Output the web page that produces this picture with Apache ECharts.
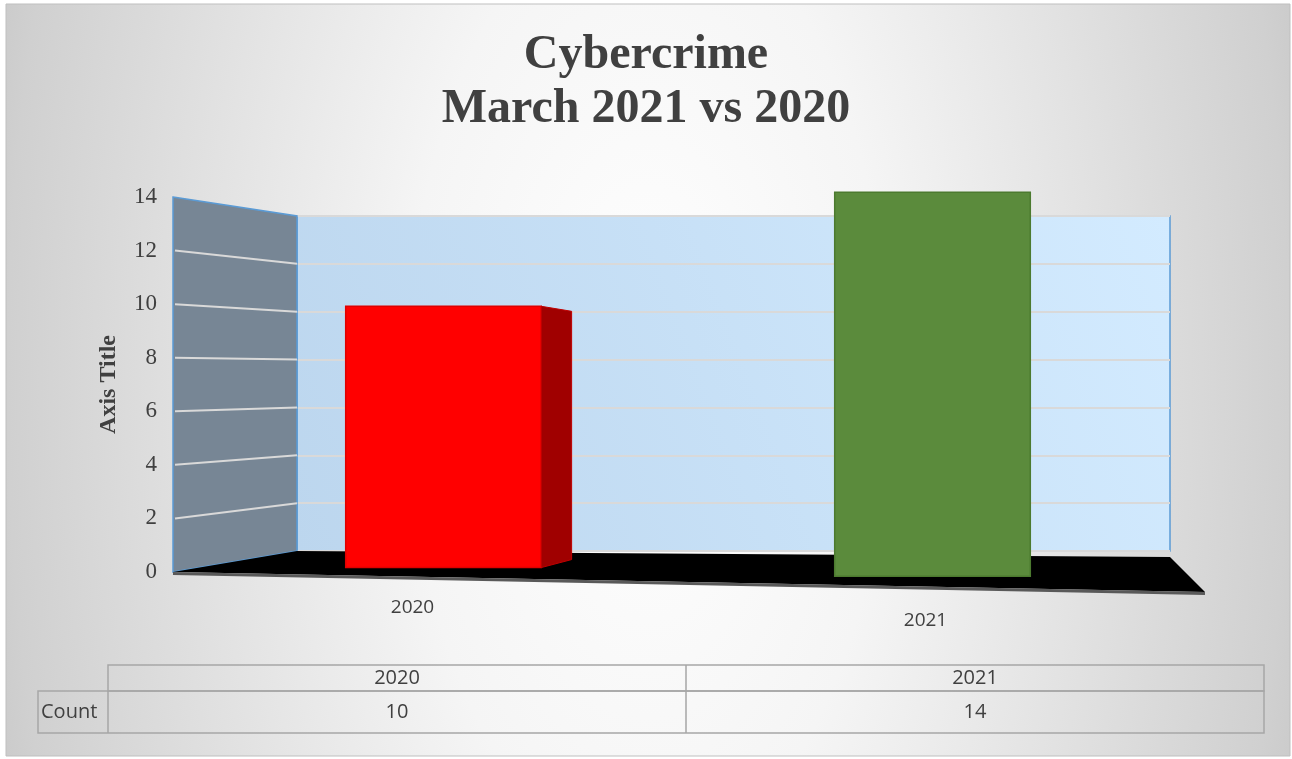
<!DOCTYPE html>
<html>
<head>
<meta charset="utf-8">
<title>Cybercrime March 2021 vs 2020</title>
<script src="https://cdn.jsdelivr.net/npm/echarts@6.0.0/dist/echarts.min.js"></script>
<style>
  html, body { margin: 0; padding: 0; background: #fff; }
  #main { width: 1292px; height: 759px; }
</style>
</head>
<body>
<div id="main"></div>
<script>
// data
var categories = ['2020', '2021']
var counts = [10, 14]
var yMin = 0
var yMax = 14
var yStep = 2
var rowLabel = 'Count'

// colours
var barColors = ['#ff0000', '#5b8b3c']
var barEdges = ['#e00000', '#4c7a2f']
var sideColor = '#a00000'
var textColor = '#404040'

// layout (back wall / front plane of the fake 3d box)
var backLeft = 297
var backRight = 1170
var frontX = 173
var frontGrid = { left: 199, right: 115, top: 197, bottom: 187 }
var backGrid = { left: backLeft, right: 1292 - backRight, top: 216, bottom: 208 }
var eyeX = 690 // horizontal centre of the perspective

var myChart = echarts.init(document.getElementById('main'))

function renderBar (params, api) {
  var i = params.dataIndex
  var top = api.coord([api.value(0), api.value(1)])
  var base = api.coord([api.value(0), 0])
  var w = api.size([1, 0])[0] * 0.4
  var cx = top[0]
  // slight perspective: bars further right sit lower and look taller
  var shift = (cx - eyeX) * 0.018
  var k = 1 + (cx - eyeX) * 0.0001
  var yb = base[1] + shift
  var yt = yb - (base[1] - top[1]) * k
  var x0 = cx - w / 2
  var x1 = cx + w / 2
  var children = [{
    type: 'rect',
    shape: { x: x0, y: yt, width: w, height: yb - yt },
    style: { fill: barColors[i], stroke: barEdges[i], lineWidth: 1.5 }
  }]
  // only the left bar shows its right side from this viewpoint
  if (x1 < eyeX) {
    var d = w * 0.155
    children.push({
      type: 'polygon',
      shape: { points: [[x1, yt], [x1 + d, yt + 5], [x1 + d, yb - 8], [x1, yb]] },
      style: { fill: sideColor, stroke: '#c00000', lineWidth: 1 }
    })
  }
  return { type: 'group', children: children }
}

const option = {
  backgroundColor: '#ffffff',
  title: {
    text: 'Cybercrime\nMarch 2021 vs 2020',
    left: 'center',
    top: 24,
    textStyle: {
      fontFamily: 'Liberation Serif',
      fontWeight: 'bold',
      fontSize: 48,
      lineHeight: 54,
      color: textColor
    }
  },
  grid: [
    Object.assign({
      show: true,
      borderColor: '#5b9bd5',
      borderWidth: 1.5,
      backgroundColor: new echarts.graphic.LinearGradient(0, 1, 1, 0, [
        { offset: 0, color: '#bcd6ee' },
        { offset: 1, color: '#d3ebff' }
      ])
    }, backGrid),
    frontGrid
  ],
  xAxis: [
    { type: 'category', gridIndex: 0, data: categories, show: false },
    {
      type: 'category',
      gridIndex: 1,
      data: categories,
      axisLine: { show: false },
      axisTick: { show: false },
      axisLabel: {
        margin: 26,
        fontFamily: 'Open Sans',
        fontSize: 18,
        color: textColor,
        formatter: function (v, idx) {
          return idx === 0 ? '{a|' + v + '}' : '{b|' + v + '}'
        },
        rich: {
          a: { fontFamily: 'Open Sans', fontSize: 19, color: textColor, padding: [0, 62, 0, 0] },
          b: { fontFamily: 'Open Sans', fontSize: 19, color: textColor, padding: [13, 14, 0, 0] }
        }
      }
    }
  ],
  yAxis: [
    {
      type: 'value',
      gridIndex: 0,
      min: yMin,
      max: yMax,
      interval: yStep,
      axisLabel: { show: false },
      axisLine: { show: false },
      axisTick: { show: false },
      splitLine: { lineStyle: { color: '#d9d9d9', width: 2 } }
    },
    {
      type: 'value',
      gridIndex: 1,
      min: yMin,
      max: yMax,
      interval: yStep,
      offset: frontGrid.left - frontX,
      name: 'Axis Title',
      nameLocation: 'middle',
      nameRotate: 90,
      nameGap: 52,
      nameTextStyle: {
        fontFamily: 'Liberation Serif',
        fontWeight: 'bold',
        fontSize: 24,
        color: textColor
      },
      axisLine: { show: false },
      axisTick: { show: false },
      splitLine: { show: false },
      axisLabel: {
        margin: 16,
        fontFamily: 'Liberation Serif',
        fontSize: 23,
        color: textColor
      }
    }
  ],
  series: [
    {
      name: rowLabel,
      type: 'custom',
      xAxisIndex: 1,
      yAxisIndex: 1,
      z: 5,
      renderItem: renderBar,
      data: categories.map(function (c, i) { return [i, counts[i]] })
    }
  ]
}
myChart.setOption(option)

// walls, floor and data table, placed with the axes' own scales
var yF = function (v) { return myChart.convertToPixel({ yAxisIndex: 1 }, v) }
var yB = function (v) { return myChart.convertToPixel({ yAxisIndex: 0 }, v) }

// background: an elliptical glow, wider vertically than the box
var shapes = [{
  type: 'rect',
  z: -10,
  x: 6,
  y: 4,
  scaleY: 2,
  shape: { x: 0, y: 0, width: 1284, height: 376 },
  style: {
    fill: new echarts.graphic.RadialGradient(0.5, 0.5, 800 / 376, [
      { offset: 0, color: '#ffffff' },
      { offset: 0.3, color: '#f5f5f5' },
      { offset: 0.8, color: '#d0d0d0' },
      { offset: 0.9, color: '#c4c4c4' },
      { offset: 1, color: '#bdbdbd' }
    ])
  }
}, {
  type: 'rect',
  z: -9,
  shape: { x: 6, y: 4, width: 1284, height: 752 },
  style: { fill: 'none', stroke: '#bfbfbf', lineWidth: 1 }
}]

// left wall
shapes.push({
  type: 'polygon',
  z: 1,
  shape: { points: [[frontX, yF(yMax)], [backLeft, yB(yMax)], [backLeft, yB(yMin)], [frontX, yF(yMin)]] },
  style: { fill: '#778695', stroke: '#5b9bd5', lineWidth: 1.5 }
})
for (var v = yMin + yStep; v < yMax; v += yStep) {
  shapes.push({
    type: 'line',
    z: 1,
    z2: 5,
    shape: { x1: frontX + 2, y1: yF(v), x2: backLeft, y2: yB(v) },
    style: { stroke: '#d9d9d9', lineWidth: 2 }
  })
}
// floor
var f0 = yF(yMin)
var b0 = yB(yMin)
shapes.push({
  type: 'polygon',
  z: 1,
  z2: 8,
  shape: { points: [[frontX, f0], [backLeft, b0], [backRight, b0 + 6], [backRight + 35, f0 + 20]] },
  style: { fill: '#000000' }
})
shapes.push({
  type: 'line',
  z: 1,
  z2: 9,
  shape: { x1: frontX, y1: f0 + 1.5, x2: backRight + 35, y2: f0 + 21.5 },
  style: { stroke: '#595959', lineWidth: 3 }
})

// data table
var tLeft = 108
var tRight = 1264
var labelLeft = 38
var headTop = 665
var rowTop = 691
var rowBottom = 733
var colW = (tRight - tLeft) / categories.length
var tableStyle = { fill: 'none', stroke: '#a6a6a6', lineWidth: 1.5 }
var tableFont = { fontFamily: 'Open Sans', fontSize: 20, fill: textColor }
shapes.push({ type: 'rect', z: 1, shape: { x: tLeft, y: headTop, width: tRight - tLeft, height: rowTop - headTop }, style: tableStyle })
shapes.push({ type: 'rect', z: 1, shape: { x: labelLeft, y: rowTop, width: tRight - labelLeft, height: rowBottom - rowTop }, style: tableStyle })
shapes.push({ type: 'line', z: 1, shape: { x1: tLeft, y1: rowTop, x2: tLeft, y2: rowBottom }, style: { stroke: '#a6a6a6', lineWidth: 1.5 } })
shapes.push({
  type: 'text', z: 1,
  style: Object.assign({ text: rowLabel, x: labelLeft + 3, y: (rowTop + rowBottom) / 2, textAlign: 'left', textVerticalAlign: 'middle' }, tableFont)
})
categories.forEach(function (c, i) {
  var cx = tLeft + colW * (i + 0.5)
  if (i > 0) {
    shapes.push({ type: 'line', z: 1, shape: { x1: tLeft + colW * i, y1: headTop, x2: tLeft + colW * i, y2: rowBottom }, style: { stroke: '#a6a6a6', lineWidth: 1.5 } })
  }
  shapes.push({
    type: 'text', z: 1,
    style: Object.assign({ text: c, x: cx, y: (headTop + rowTop) / 2, textAlign: 'center', textVerticalAlign: 'middle' }, tableFont)
  })
  shapes.push({
    type: 'text', z: 1,
    style: Object.assign({ text: String(counts[i]), x: cx, y: (rowTop + rowBottom) / 2, textAlign: 'center', textVerticalAlign: 'middle' }, tableFont)
  })
})

myChart.setOption({ graphic: shapes })
</script>
</body>
</html>
